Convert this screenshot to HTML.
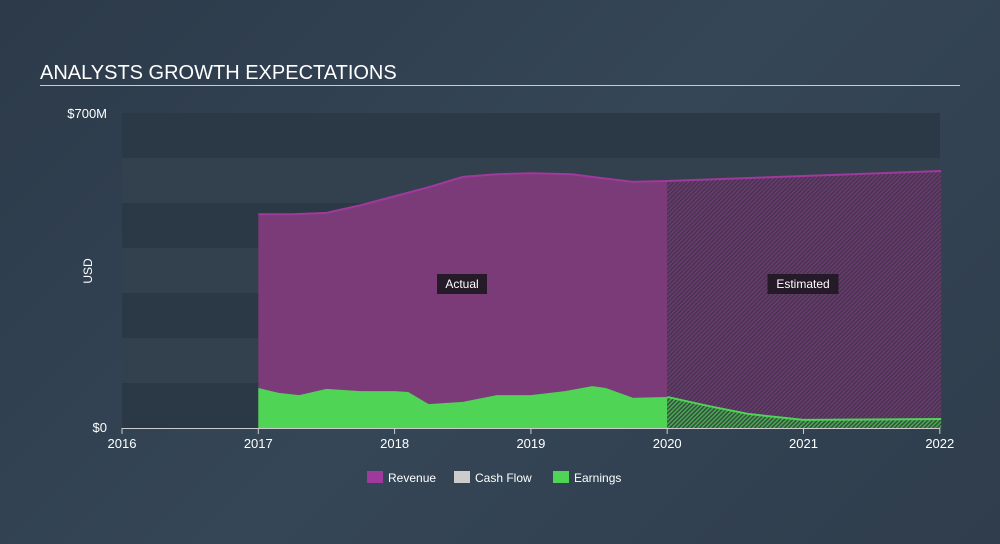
<!DOCTYPE html>
<html><head><meta charset="utf-8"><style>
body{margin:0;width:1000px;height:544px;background:linear-gradient(135deg,#2c3a49 0%,#354657 50%,#2f3d4c 100%);font-family:"Liberation Sans",sans-serif;overflow:hidden}
svg{position:absolute;left:0;top:0}
</style></head><body>
<svg id="c" width="1000" height="544">
<defs>
<pattern id="hatch" width="3" height="3" patternUnits="userSpaceOnUse" patternTransform="rotate(45)">
<rect width="3" height="3" fill="#453550"/><rect width="1.5" height="3" fill="#6c3a6e"/></pattern>
<pattern id="hatchG" width="3" height="3" patternUnits="userSpaceOnUse" patternTransform="rotate(45)">
<rect width="3" height="3" fill="#34503f"/><rect width="1.5" height="3" fill="#4aa852"/></pattern>
</defs>
<text x="40" y="79" fill="#fff" font-size="20">ANALYSTS GROWTH EXPECTATIONS</text>
<rect x="40" y="85" width="920" height="1" fill="#c8ccd0"/>
<g id="bands"></g><g id="marks"></g><g id="axes"></g>
</svg>
<script>
const yTicks=[0,700];
const xYears=[2016,2017,2018,2019,2020,2021,2022];
const revX=[2017,2017.25,2017.5,2017.75,2018,2018.25,2018.5,2018.75,2019,2019.3,2019.5,2019.75,2020,2021,2022.01];
const revY=[475,475,478,495,515,535,558,564,566,564,556,547,549,560,571];
const earnX=[2017,2017.15,2017.3,2017.5,2017.75,2018,2018.1,2018.25,2018.5,2018.75,2019,2019.25,2019.45,2019.55,2019.75,2020,2020.3,2020.6,2021,2022.01];
const earnY=[89,78,73,87,82,82,80,53,58,73,73,82,93,89,67,69,49,31,18,20];
const splitYear=2020;
const NS='http://www.w3.org/2000/svg';
const x=v=>122+(v-2016)*136.3, y=v=>428-v*0.45;
function mk(t,a,p){const e=document.createElementNS(NS,t);for(const k in a)e.setAttribute(k,a[k]);p.appendChild(e);return e;}
const bands=document.getElementById('bands'),marks=document.getElementById('marks'),axes=document.getElementById('axes');
for(let i=0;i<7;i++){const b=mk('rect',{x:122,y:y(700-i*100),width:818,height:45,fill:i%2?'#33414f':'#2b3846'},bands);
}
function pts(X,Y,f){const r=[];for(let i=0;i<X.length;i++)if(f(X[i]))r.push([x(X[i]),y(Y[i])]);return r;}
function interp(X,Y,v){for(let i=1;i<X.length;i++)if(X[i]>=v){const t=(v-X[i-1])/(X[i]-X[i-1]);return Y[i-1]+t*(Y[i]-Y[i-1]);}return Y[Y.length-1];}
function area(p,fill,name){const d='M'+p[0][0]+','+428+p.map(q=>'L'+q[0]+','+q[1]).join('')+'L'+p[p.length-1][0]+',428Z';
const e=mk('path',{d:d,fill:fill},marks);}
function line(p,c,name){const e=mk('polyline',{points:p.map(q=>q.join(',')).join(' '),fill:'none',stroke:c,'stroke-width':2},marks);
}
const rs=interp(revX,revY,splitYear),es=interp(earnX,earnY,splitYear);
const rA=pts(revX,revY,v=>v<splitYear).concat([[x(splitYear),y(rs)]]);
const rE=[[x(splitYear),y(rs)]].concat(pts(revX,revY,v=>v>splitYear));
const eA=pts(earnX,earnY,v=>v<splitYear).concat([[x(splitYear),y(es)]]);
const eE=[[x(splitYear),y(es)]].concat(pts(earnX,earnY,v=>v>splitYear));
area(rA,'#7b3a78','revenue-area-actual');area(rE,'url(#hatch)','revenue-area-estimated');
line(rA.concat(rE.slice(1)),'#a0399c','revenue-line');
area(eA,'#4fd456','earnings-area-actual');area(eE,'url(#hatchG)','earnings-area-estimated');
line(eE,'#4fd456','earnings-line-estimated');
mk('line',{x1:122,x2:940,y1:428.5,y2:428.5,stroke:'#ccc','stroke-width':1},axes);
xYears.forEach(v=>{mk('line',{x1:x(v),x2:x(v),y1:428,y2:434,stroke:'#ccc'},axes);
const t=mk('text',{x:x(v),y:448,fill:'#fff','font-size':13,'text-anchor':'middle'},axes);t.textContent=v;
});
yTicks.forEach(v=>{const t=mk('text',{x:107,y:y(v)+(v?5:4),fill:'#fff','font-size':13,'text-anchor':'end'},axes);t.textContent=v?'$'+v+'M':'$0';
});
const yt=mk('text',{x:92,y:271,fill:'#fff','font-size':12,'text-anchor':'middle',transform:'rotate(-90 92 271)'},axes);yt.textContent='USD';

[['Actual',462],['Estimated',803]].forEach(([s,cx])=>{const w=s.length*7+8;
mk('rect',{x:cx-w/2,y:274,width:w,height:20,fill:'#241a28'},axes);
const t=mk('text',{x:cx,y:288,fill:'#fff','font-size':12,'text-anchor':'middle'},axes);t.textContent=s;
});
[['Revenue','#a0399c',367],['Cash Flow','#cccccc',454],['Earnings','#4fd456',553]].forEach(([s,c,lx])=>{
const g=mk('g',{},axes);
mk('rect',{x:lx,y:471,width:16,height:12,fill:c},g);
const t=mk('text',{x:lx+21,y:482,fill:'#fff','font-size':12},g);t.textContent=s;});
</script>
</body></html>
